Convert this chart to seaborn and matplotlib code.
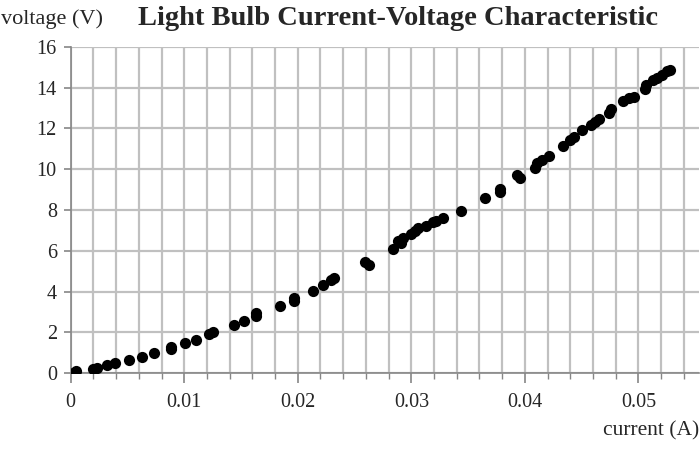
import numpy as np
import pandas as pd
import matplotlib
matplotlib.use("Agg")
import matplotlib.pyplot as plt
from matplotlib.ticker import MultipleLocator
import seaborn as sns

sns.set_style("white")
plt.rcParams['font.family'] = ['Liberation Serif', 'DejaVu Serif']

current = [0.0002, 0.0005, 0.0020, 0.0023, 0.0032, 0.0039, 0.0051, 0.0063, 0.0073,
           0.0088, 0.0088, 0.0101, 0.0110, 0.0122, 0.0125, 0.0144, 0.0153, 0.0163,
           0.0163, 0.0184, 0.0197, 0.0197, 0.0213, 0.0222, 0.0229, 0.0232, 0.0259,
           0.0263, 0.0284, 0.0288, 0.0291, 0.0293, 0.0300, 0.0303, 0.0306, 0.0313,
           0.0319, 0.0322, 0.0328, 0.0344, 0.0365, 0.0378, 0.0378, 0.0393, 0.0396,
           0.0409, 0.0411, 0.0415, 0.0421, 0.0434, 0.0440, 0.0443, 0.0450, 0.0458,
           0.0462, 0.0465, 0.0474, 0.0476, 0.0486, 0.0492, 0.0496, 0.0506, 0.0507,
           0.0513, 0.0516, 0.0521, 0.0525, 0.0528]
voltage = [0.03, 0.10, 0.22, 0.27, 0.41, 0.49, 0.64, 0.80, 0.98,
           1.18, 1.30, 1.46, 1.62, 1.90, 2.02, 2.35, 2.56, 2.82,
           2.93, 3.27, 3.56, 3.68, 4.04, 4.30, 4.55, 4.67, 5.46,
           5.32, 6.09, 6.49, 6.38, 6.62, 6.84, 6.98, 7.10, 7.22,
           7.39, 7.48, 7.62, 7.97, 8.60, 8.90, 9.02, 9.72, 9.56,
           10.08, 10.29, 10.45, 10.65, 11.16, 11.44, 11.60, 11.93, 12.17,
           12.30, 12.45, 12.75, 12.94, 13.35, 13.48, 13.56, 13.92, 14.13,
           14.35, 14.46, 14.63, 14.79, 14.84]

df = pd.DataFrame({'current': current, 'voltage': voltage})

fig = plt.figure(figsize=(7, 4.59), dpi=100)
ax = fig.add_axes([0.101, 0.187, 0.897, 0.711])

grid_col = '#c0c0c0'
ax.xaxis.set_major_locator(MultipleLocator(0.01))
ax.xaxis.set_minor_locator(MultipleLocator(0.002))
ax.yaxis.set_major_locator(MultipleLocator(2))
ax.grid(which='both', axis='x', color=grid_col, lw=1.6)
ax.grid(which='major', axis='y', color=grid_col, lw=1.6)
ax.set_axisbelow(True)

sns.scatterplot(data=df, x='current', y='voltage', ax=ax, color='black',
                s=65, linewidth=0, zorder=3)

ax.set_xlim(0, 0.0553)
ax.set_ylim(0, 16)
ax.xaxis.set_major_formatter(plt.FuncFormatter(lambda v, p: '%g' % round(v, 4)))

for side in ['top', 'right']:
    ax.spines[side].set_visible(False)
for side in ['left', 'bottom']:
    ax.spines[side].set_color('#868686')
    ax.spines[side].set_linewidth(1.2)

ax.tick_params(axis='x', which='major', direction='out', length=7, width=1.2,
               color='#868686', labelsize=14.5, pad=7)
ax.tick_params(axis='x', which='minor', direction='out', length=4, width=1.0,
               color='#868686')
ax.tick_params(axis='y', which='major', direction='out', length=5, width=1.2,
               color='#868686', labelsize=14.5, pad=5)
ax.tick_params(bottom=True, left=True, which='both')

ax.set_xlabel('')
ax.set_ylabel('')
fig.text(0.002, 0.958, 'voltage (V)', fontsize=16, ha='left', va='center')
fig.text(0.999, 0.062, 'current (A)', fontsize=15.5, ha='right', va='center')
fig.text(0.569, 0.960, 'Light Bulb Current-Voltage Characteristic',
         fontsize=20.5, fontweight='bold', ha='center', va='center')

fig.savefig('out.png', dpi=100)
